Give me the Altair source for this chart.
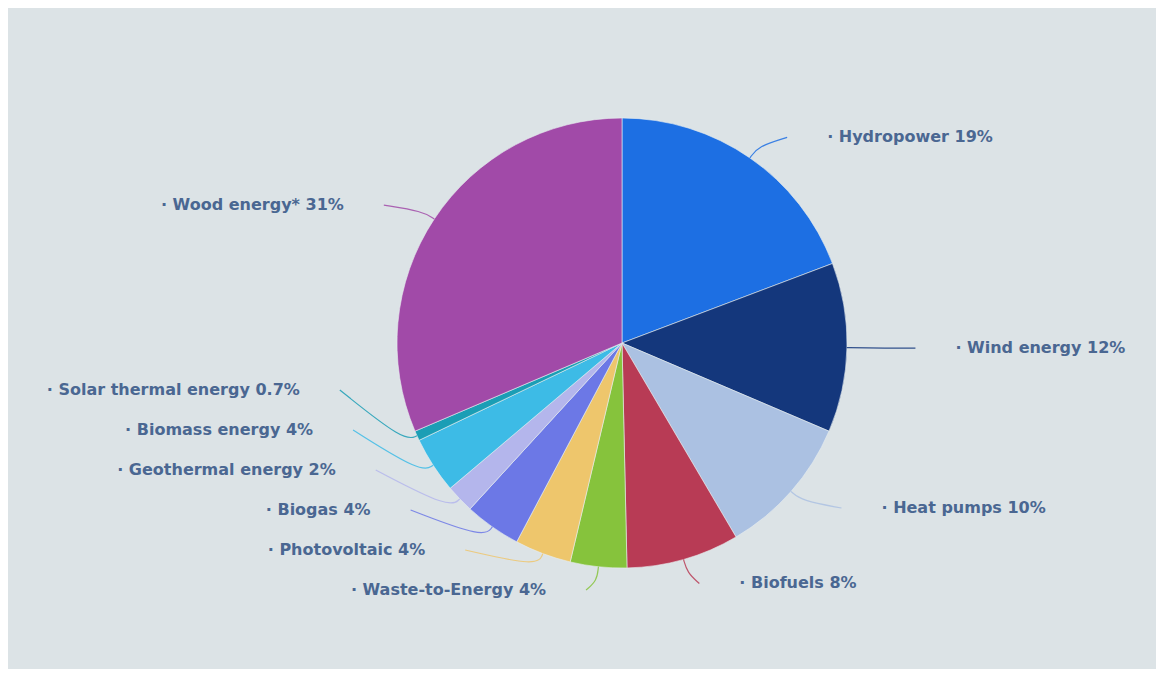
import math
import pandas as pd
import altair as alt

# ---- data ----
names = ["Hydropower", "Wind energy", "Heat pumps", "Biofuels", "Waste-to-Energy",
         "Photovoltaic", "Biogas", "Geothermal energy", "Biomass energy",
         "Solar thermal energy", "Wood energy*"]
shares = [19, 12, 10, 8, 4, 4, 4, 2, 4, 0.7, 31]
colors = ["#1d6fe3", "#14377c", "#abc1e2", "#b83b55", "#86c33c", "#eec66c",
          "#6c78e6", "#b4b6ec", "#3dbbe6", "#1b9eb5", "#a14aa8"]

# ---- layout parameters ----
W, H = 1148, 661
CX, CY = 614, 335          # pie centre
R = 225                    # pie radius
LR = 250                   # label circle radius
XS = 1.19                  # horizontal spread of labels
PAD_L, PAD_R = 30, 36
BOTTOM, GAP = 582, 40
CONN_GAP = 40

total = sum(shares)
arc_rows, lab_rows, con_rows = [], [], []
cum = 0.0
items = []
for i, (n, v) in enumerate(zip(names, shares)):
    a = (cum + v / 2) / total * 2 * math.pi
    cum += v
    side = "right" if math.sin(a) > 0 else "left"
    items.append(dict(idx=i, name=n, value=v, a=a, side=side,
                      y=CY - LR * math.cos(a)))
    arc_rows.append(dict(idx=i, name=n, value=v))

# simple anti-overlap pass on each side (push labels upward from the bottom)
for side in ("left", "right"):
    grp = sorted([it for it in items if it["side"] == side], key=lambda d: -d["y"])
    prev = BOTTOM + GAP
    for it in grp:
        it["y"] = min(it["y"], prev - GAP)
        prev = it["y"]

for it in items:
    dy = it["y"] - CY
    dx = XS * math.sqrt(max(LR ** 2 - dy ** 2, 0))
    a = it["a"]
    if it["side"] == "left":
        x = CX - dx - PAD_L
        end_x = x + CONN_GAP
    else:
        x = CX + dx + PAD_R
        end_x = x - CONN_GAP
    lab_rows.append(dict(name=it["name"], side=it["side"], x=x, y=it["y"],
                         label=f"·  {it['name']} {it['value']:g}%"))
    pts = [(CX + R * math.sin(a), CY - R * math.cos(a)),
           (CX + (R + 14) * math.sin(a), CY - (R + 14) * math.cos(a)),
           (end_x, it["y"])]
    for s, (px, py) in enumerate(pts):
        con_rows.append(dict(name=it["name"], seq=s, x=px, y=py))

arc_df = pd.DataFrame(arc_rows)
lab_df = pd.DataFrame(lab_rows)
con_df = pd.DataFrame(con_rows)

color_scale = alt.Scale(domain=names, range=colors)
xs = alt.Scale(domain=[0, W], nice=False, zero=False)
ys = alt.Scale(domain=[0, H], nice=False, zero=False, reverse=True)

pie = alt.Chart(arc_df).mark_arc(radius=R, stroke="#e8eef0", strokeWidth=0.6).encode(
    theta=alt.Theta("value:Q", stack=True),
    color=alt.Color("name:N", scale=color_scale, legend=None),
    order=alt.Order("idx:Q"),
    x=alt.value(CX),
    y=alt.value(CY),
)

conn = alt.Chart(con_df).mark_line(strokeWidth=1.2, interpolate="basis", opacity=0.85).encode(
    x=alt.X("x:Q", scale=xs, axis=None),
    y=alt.Y("y:Q", scale=ys, axis=None),
    detail="name:N",
    order="seq:Q",
    color=alt.Color("name:N", scale=color_scale, legend=None),
)

text_base = alt.Chart(lab_df).encode(
    x=alt.X("x:Q", scale=xs, axis=None),
    y=alt.Y("y:Q", scale=ys, axis=None),
    text="label:N",
)
left_txt = text_base.transform_filter(alt.datum.side == "left").mark_text(
    align="right", baseline="middle", font="DejaVu Sans", fontSize=16,
    fontWeight="bold", color="#4a6792")
right_txt = text_base.transform_filter(alt.datum.side == "right").mark_text(
    align="left", baseline="middle", font="DejaVu Sans", fontSize=16,
    fontWeight="bold", color="#4a6792")

chart = alt.layer(pie, conn, left_txt, right_txt).properties(
    width=W, height=H, padding=0, background="#dce3e6"
).configure_view(stroke=None)

chart.save("out.html", embed_options={"renderer": "svg", "actions": False})
